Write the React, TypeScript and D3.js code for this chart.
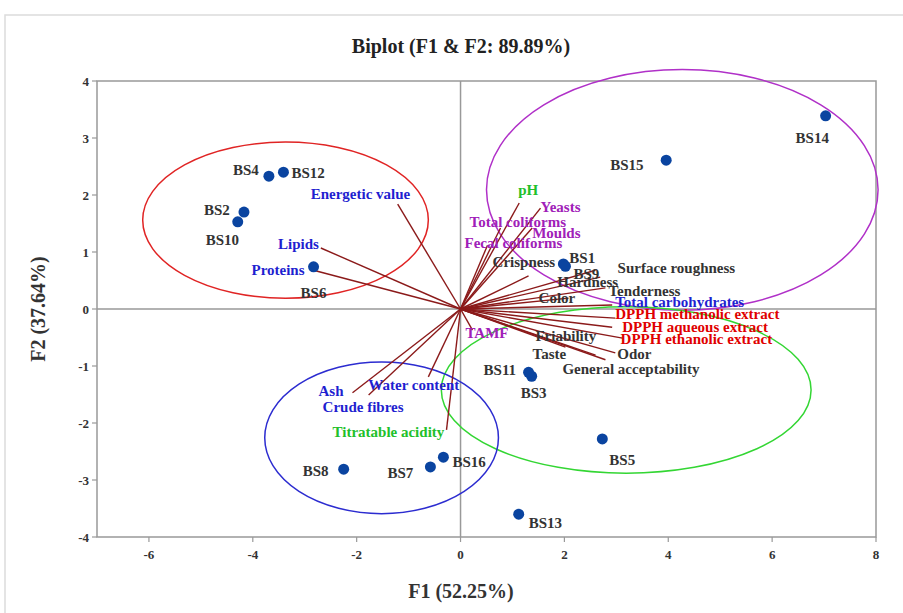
import React from "react";
import * as d3 from "d3";

// ---------- data ----------
const obsNames = ["BS1","BS2","BS3","BS4","BS5","BS6","BS7","BS8","BS9","BS10","BS11","BS12","BS13","BS14","BS15","BS16"];
const obsF1 = [1.98,-4.17,1.37,-3.69,2.73,-2.83,-0.58,-2.25,2.02,-4.29,1.31,-3.41,1.12,7.03,3.96,-0.33];
const obsF2 = [0.79,1.70,-1.18,2.33,-2.28,0.74,-2.77,-2.81,0.75,1.53,-1.11,2.40,-3.60,3.39,2.61,-2.60];

const varNames = ["Energetic value","Lipids","Proteins","Ash","Crude fibres","Water content","Titratable acidity","pH","Yeasts","Moulds","Total coliforms","Fecal coliforms","Crispness","Hardness","Surface roughness","Tenderness","Color","Total carbohydrates","DPPH methanolic extract","DPPH aqueous extract","DPPH ethanolic extract","Friability","Taste","Odor","General acceptability","TAMF"];
const varF1 = [-1.21,-2.69,-2.83,-2.08,-1.77,-0.62,-0.27,1.13,1.54,1.38,0.77,0.52,1.31,2.69,2.60,2.79,2.08,2.92,2.98,2.92,3.12,2.02,2.60,2.98,2.79,0.23];
const varF2 = [1.84,1.07,0.68,-1.47,-1.51,-1.19,-2.12,1.86,1.77,1.42,1.42,1.12,0.58,0.56,0.68,0.37,0.19,0.07,-0.16,-0.32,-0.51,-0.67,-0.81,-0.77,-0.89,-0.37];
const varGroup = ["blue","blue","blue","blue","blue","blue","green","green","purple","purple","purple","purple","gray","gray","gray","gray","gray","blue","red","red","red","gray","gray","gray","gray","purple"];

const xTicks = [-6,-4,-2,0,2,4,6,8];
const yTicks = [-4,-3,-2,-1,0,1,2,3,4];

// group ellipses (center F1, F2, radii in F units)
const ellipseColor = ["red","purple","green","blue"];
const ellipseCx = [-3.37,4.27,3.19,-1.52];
const ellipseCy = [1.56,2.09,-1.42,-2.26];
const ellipseRx = [2.75,3.77,3.56,2.25];
const ellipseRy = [1.37,2.11,1.46,1.33];

// ---------- layout ----------
const W = 903, H = 613;
const M = { left: 97, right: 876, top: 81, bottom: 537 };
const varLabelOffset: [number, number][] = [
  [-87,-5],[-2,1],[-9,5],[-34,3],[-46,17],[-60,13],[-114,7],[-1,-8],[0,4],[0,10],[-31,-1],[-23,3],
  [-36,-9],[-43,10],[22,3],[3,8],[-30,5],[3,2],[0,1],[10,5],[-2,6],[-30,-6],[-63,4],[2,6],[-43,14],[-7,8]
];
const varLabelAnchor = ["start","end","end","start","start","start","start","start","start","start","start","start","start","start","start","start","start","start","start","start","start","start","start","start","start","start"];
const obsLabelOffset: [number, number][] = [
  [6,-1],[-40,3],[-11,22],[-36,-1],[7,26],[-13,31],[-43,11],[-41,7],[8,13],[-32,23],[-45,3],[8,6],[10,14],[-30,27],[-56,10],[9,10]
];

const textColors: Record<string, string> = {
  blue: "#1f1fd0",
  green: "#22c02a",
  purple: "#a020b8",
  red: "#e00000",
  gray: "#333333",
};
const ellipseStroke: Record<string, string> = {
  red: "#e02424",
  purple: "#b030c8",
  green: "#33d633",
  blue: "#2c2cd0",
};

const FONT = "'Liberation Serif', 'Times New Roman', serif";
const LABEL_SIZE = 15;

export default function App() {
  const x = d3.scaleLinear().domain([-7, 8]).range([M.left, M.right]);
  const y = d3.scaleLinear().domain([-4, 4]).range([M.bottom, M.top]);
  const axisGray = "#999999";

  return (
    <div style={{ position: "fixed", left: 0, top: 0 }}>
      <svg width={W} height={H} style={{ display: "block", background: "#fff" }} fontFamily={FONT}>
        <rect x={5} y={15} width={910} height={610} fill="#fff" stroke="#dcdcdc" strokeWidth={1.5} />
        <text x={461} y={53} textAnchor="middle" fontSize={20} fontWeight="bold" fill="#222">
          Biplot (F1 &amp; F2: 89.89%)
        </text>

        {/* frame */}
        <rect x={M.left} y={M.top} width={M.right - M.left} height={M.bottom - M.top}
          fill="none" stroke={axisGray} strokeWidth={1.5} />
        {/* zero lines */}
        <line x1={x(0)} x2={x(0)} y1={M.top} y2={M.bottom} stroke={axisGray} strokeWidth={1.5} />
        <line x1={M.left} x2={M.right} y1={y(0)} y2={y(0)} stroke={axisGray} strokeWidth={1.5} />

        {/* y ticks */}
        {yTicks.map((t) => (
          <g key={"y" + t}>
            <line x1={M.left - 5} x2={M.left} y1={y(t)} y2={y(t)} stroke={axisGray} strokeWidth={1.2} />
            <text x={M.left - 8} y={y(t) + 5} textAnchor="end" fontSize={13} fontWeight="bold" fill="#333">{t}</text>
          </g>
        ))}
        {/* x ticks */}
        {xTicks.map((t) => (
          <g key={"x" + t}>
            <line x1={x(t)} x2={x(t)} y1={M.bottom} y2={M.bottom + 5} stroke={axisGray} strokeWidth={1.2} />
            <text x={x(t)} y={M.bottom + 22} textAnchor="middle" fontSize={13} fontWeight="bold" fill="#333">{t}</text>
          </g>
        ))}

        <text x={461} y={598} textAnchor="middle" fontSize={20} fontWeight="bold" fill="#333">F1 (52.25%)</text>
        <text transform={`translate(45, ${y(0)}) rotate(-90)`} textAnchor="middle" fontSize={20} fontWeight="bold" fill="#333">
          F2 (37.64%)
        </text>

        {/* ellipses */}
        {ellipseColor.map((c, i) => (
          <ellipse key={"e" + i}
            cx={x(ellipseCx[i])} cy={y(ellipseCy[i])}
            rx={x(ellipseRx[i]) - x(0)} ry={y(0) - y(ellipseRy[i])}
            fill="none" stroke={ellipseStroke[c]} strokeWidth={1.5} />
        ))}

        {/* vectors */}
        {varNames.map((n, i) => (
          <line key={"v" + n} x1={x(0)} y1={y(0)} x2={x(varF1[i])} y2={y(varF2[i])}
            stroke="#8b1a1a" strokeWidth={1.4} />
        ))}

        {/* observations */}
        {obsNames.map((n, i) => (
          <circle key={"o" + n} cx={x(obsF1[i])} cy={y(obsF2[i])} r={5.5} fill="#0a44a0" />
        ))}

        {/* variable labels */}
        {varNames.map((n, i) => (
          <text key={"vl" + n}
            x={x(varF1[i]) + varLabelOffset[i][0]} y={y(varF2[i]) + varLabelOffset[i][1]}
            textAnchor={varLabelAnchor[i] as any} fontSize={LABEL_SIZE} fontWeight="bold"
            fill={textColors[varGroup[i]]}>
            {n}
          </text>
        ))}

        {/* observation labels */}
        {obsNames.map((n, i) => (
          <text key={"ol" + n}
            x={x(obsF1[i]) + obsLabelOffset[i][0]} y={y(obsF2[i]) + obsLabelOffset[i][1]}
            fontSize={LABEL_SIZE} fontWeight="bold" fill="#333">
            {n}
          </text>
        ))}
      </svg>
    </div>
  );
}
